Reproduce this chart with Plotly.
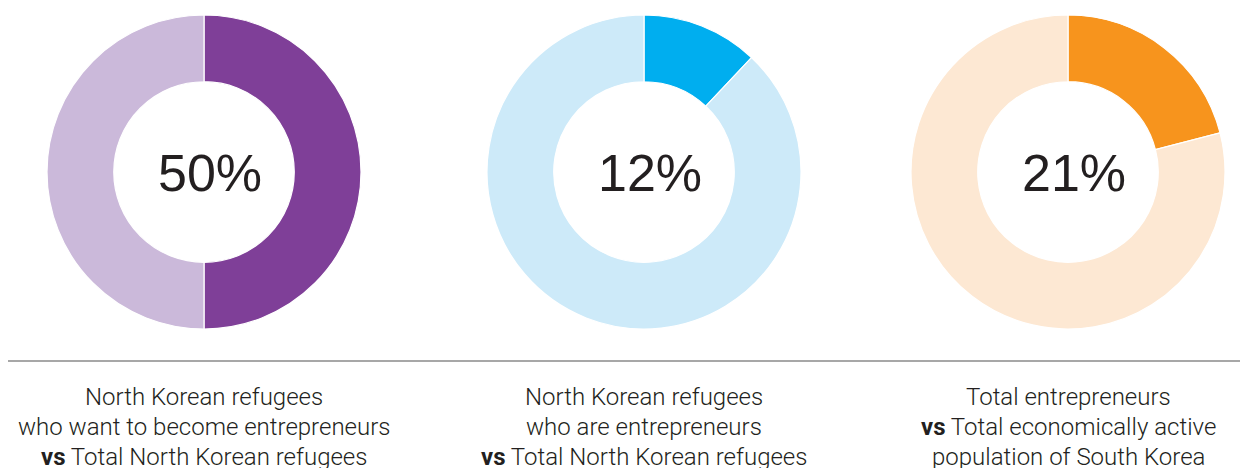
import plotly.graph_objects as go

# Share of each group (highlighted slice) vs the remainder
shares = [50, 12, 21]
share_labels = ["50%", "12%", "21%"]
main_colors = ["#7f3f98", "#00aeef", "#f7941d"]
rest_colors = ["#cbb9da", "#cdeaf9", "#fde8d3"]
captions = [
    ["North Korean refugees", "who want to become entrepreneurs", "<b>vs</b> Total North Korean refugees"],
    ["North Korean refugees", "who are entrepreneurs", "<b>vs</b> Total North Korean refugees"],
    ["Total entrepreneurs", "<b>vs</b> Total economically active", "population of South Korea"],
]

W, H = 1240, 468
centers_x = [204, 644, 1068]
center_y = 172
radius = 157

fig = go.Figure()

for i, share in enumerate(shares):
    cx = centers_x[i]
    fig.add_trace(go.Pie(
        values=[share, 100 - share],
        labels=["share", "rest"],
        hole=0.575,
        sort=False,
        direction="clockwise",
        rotation=0,
        textinfo="none",
        hoverinfo="skip",
        showlegend=False,
        marker=dict(colors=[main_colors[i], rest_colors[i]],
                    line=dict(color="white", width=1.2)),
        domain=dict(x=[(cx - radius) / W, (cx + radius) / W],
                    y=[(H - center_y - radius) / H, (H - center_y + radius) / H]),
    ))
    # Percentage in the hole, nudged right so the digits look centred
    fig.add_annotation(
        x=(cx + 6) / W, y=(H - center_y - 1) / H, xref="paper", yref="paper",
        text=share_labels[i], showarrow=False, xanchor="center", yanchor="middle",
        font=dict(family="Liberation Sans, Arial, sans-serif", size=52, color="#231f20"),
    )
    for j, line in enumerate(captions[i]):
        fig.add_annotation(
            x=cx / W, y=(H - (397 + 30 * j)) / H, xref="paper", yref="paper",
            text=line, showarrow=False, xanchor="center", yanchor="middle",
            font=dict(family="Roboto, Liberation Sans, sans-serif", size=24,
                      color="#231f20", weight=300),
        )

# Divider between the charts and their captions
fig.add_shape(type="line", xref="paper", yref="paper",
              x0=8 / W, x1=1.0, y0=(H - 361) / H, y1=(H - 361) / H,
              line=dict(color="#8a8a8a", width=1.5))

fig.update_layout(
    width=W, height=H,
    margin=dict(l=0, r=0, t=0, b=0),
    paper_bgcolor="white", plot_bgcolor="white",
)

fig.write_html("out.html")
